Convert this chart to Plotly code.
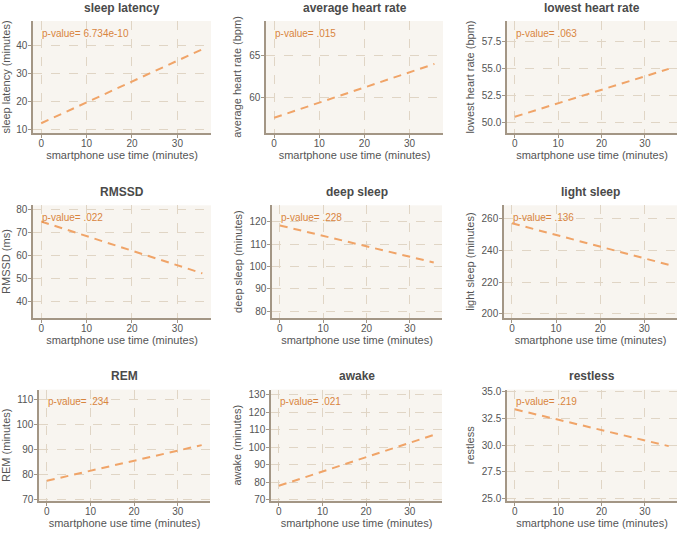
import plotly.graph_objects as go
from plotly.subplots import make_subplots

# ---- data ----
panel_titles = ["sleep latency", "average heart rate", "lowest heart rate",
                "RMSSD", "deep sleep", "light sleep",
                "REM", "awake", "restless"]
y_titles = ["sleep latency (minutes)", "average heart rate (bpm)", "lowest heart rate (bpm)",
            "RMSSD (ms)", "deep sleep (minutes)", "light sleep (minutes)",
            "REM (minutes)", "awake (minutes)", "restless"]
p_values = ["6.734e-10", ".015", ".063", ".022", ".228", ".136", ".234", ".021", ".219"]
use_time = [0, 35.5]
line_start = [12.3, 57.5, 50.5, 74.8, 118.4, 257.2, 77.6, 78.0, 33.35]
line_end = [38.6, 64.0, 54.95, 52.2, 101.8, 231.0, 91.8, 107.0, 29.9]
x_ticks = [0, 10, 20, 30]
y_ticks = [[10, 20, 30, 40], [60, 65], [50.0, 52.5, 55.0, 57.5],
           [40, 50, 60, 70, 80], [80, 90, 100, 110, 120], [200, 220, 240, 260],
           [70, 80, 90, 100, 110], [70, 80, 90, 100, 110, 120, 130],
           [25.0, 27.5, 30.0, 32.5, 35.0]]
y_ranges = [[8.85, 48.6], [55.67, 69.17], [48.99, 59.4],
            [32.8, 81.85], [77.0, 127.4], [197.5, 268.5],
            [69.6, 113.9], [69.4, 132.8], [24.76, 35.2]]
y_formats = ["", "", ".1f", "", "", "", "", "", ".1f"]

# ---- layout (pixels) ----
W, H = 677, 537
x_px = [(33, 211), (266, 443), (507, 677),
        (33, 211), (272, 442), (504, 677),
        (39, 210), (271, 442), (507, 677)]
y_px = [(18.3, 131.7), (205, 319), (391.7, 504.5)]
title_y_px = [5.5, 191.7, 378.3]

FONT = "Liberation Sans, Arial, sans-serif"
BG = "#f8f5f0"
GRID = "#e0d5c5"
AXIS = "#a39685"
LINE = "#f0a468"
PTXT = "#d8853f"
TXT = "#555555"

fig = make_subplots(rows=3, cols=3)

for i in range(9):
    r, c = i // 3 + 1, i % 3 + 1
    fig.add_trace(go.Scatter(x=use_time, y=[line_start[i], line_end[i]], mode="lines",
                             line=dict(color=LINE, width=2, dash="8px,6px"),
                             showlegend=False, hoverinfo="skip"), row=r, col=c)
    x0, x1 = x_px[i]
    yt, yb = y_px[r - 1]
    fig.update_xaxes(domain=[x0 / W, x1 / W], range=[-1.8, 37.4], tickvals=x_ticks,
                     showline=True, linecolor=AXIS, linewidth=1.5, mirror=False,
                     ticks="outside", ticklen=3, tickcolor=AXIS,
                     showgrid=True, gridcolor=GRID, griddash="dash", gridwidth=1,
                     zeroline=False, tickfont=dict(size=10, color=TXT, family=FONT),
                     ticklabelstandoff=-3,
                     title=dict(text="smartphone use time (minutes)", standoff=4,
                                font=dict(size=11, color=TXT, family=FONT)),
                     row=r, col=c)
    fig.update_yaxes(domain=[1 - yb / H, 1 - yt / H], range=y_ranges[i], tickvals=y_ticks[i],
                     tickformat=y_formats[i],
                     showline=True, linecolor=AXIS, linewidth=1.5, mirror=False,
                     ticks="outside", ticklen=3, tickcolor=AXIS,
                     showgrid=True, gridcolor=GRID, griddash="dash", gridwidth=1,
                     zeroline=False, tickfont=dict(size=10, color=TXT, family=FONT),
                     ticklabelstandoff=-1,
                     title=dict(text=y_titles[i], standoff=5,
                                font=dict(size=11, color=TXT, family=FONT)),
                     row=r, col=c)
    # panel title
    fig.add_annotation(text="<b>" + panel_titles[i] + "</b>", xref="paper", yref="paper",
                       x=(x0 + x1) / 2 / W, y=1 - title_y_px[r - 1] / H,
                       xanchor="center", yanchor="middle", showarrow=False,
                       font=dict(size=12, color="#4a4a4a", family=FONT))
    # p-value
    xa = "x" if i == 0 else "x" + str(i + 1)
    ya = "y" if i == 0 else "y" + str(i + 1)
    fig.add_annotation(text="p-value= " + p_values[i], xref=xa, yref=ya + " domain",
                       x=-0.3, y=1, yshift=-12, xanchor="left", yanchor="middle",
                       showarrow=False, font=dict(size=10, color=PTXT, family=FONT))

fig.update_layout(width=W, height=H, margin=dict(l=0, r=0, t=0, b=0),
                  paper_bgcolor="white", plot_bgcolor=BG,
                  font=dict(family=FONT, color=TXT))

fig.write_html("out.html", config={"displayModeBar": False},
               post_script="document.body.style.margin='0px';document.body.style.overflow='hidden';")
